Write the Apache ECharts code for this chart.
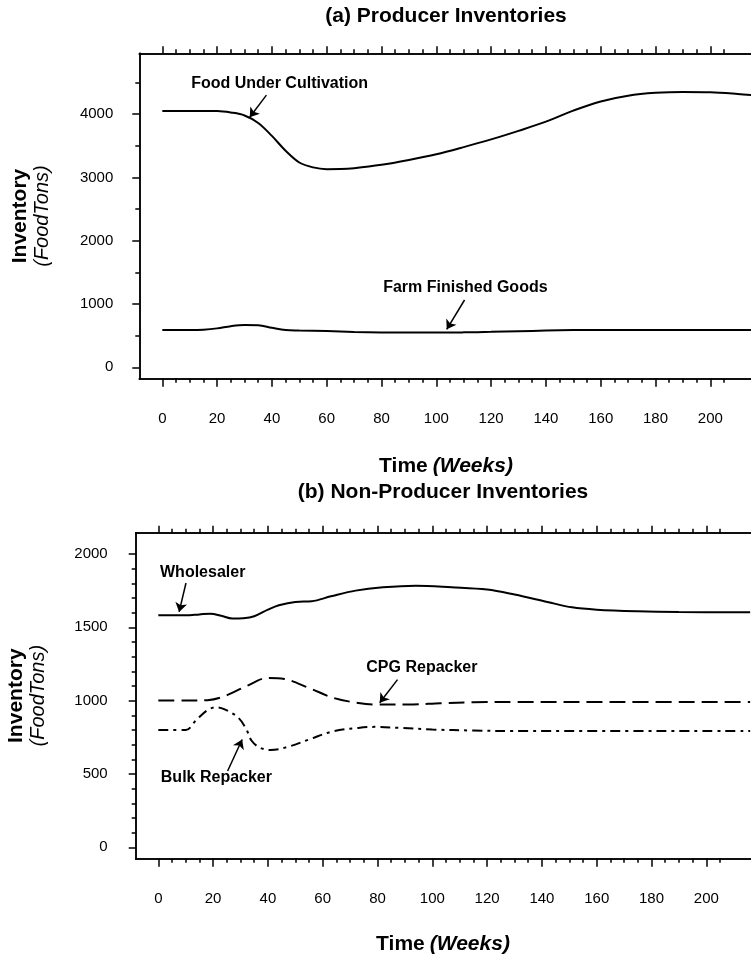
<!DOCTYPE html>
<html><head><meta charset="utf-8">
<script src="https://cdn.jsdelivr.net/npm/echarts@6/dist/echarts.min.js"></script>
<style>html,body{margin:0;padding:0;background:#fff;overflow:hidden}#c{width:751px;height:959px}</style>
</head><body><div id="c"></div>
<script>
// ---------- data ----------
const xMajorTicks = [0,20,40,60,80,100,120,140,160,180,200];
const xMinorTicks = [5,10,15,25,30,35,45,50,55,65,70,75,85,90,95,105,110,115,125,130,135,145,150,155,165,170,175,185,190,195,205];
const yTopMajor = [0,1000,2000,3000,4000];
const yTopMinor = [500,1500,2500,3500,4500];
const yBotMajor = [0,500,1000,1500,2000];
const yBotMinor = [100,200,300,400,600,700,800,900,1100,1200,1300,1400,1600,1700,1800,1900];

const fucWeeks  = [0,10,20,25,30,35,40,45,50,55,60,65,70,80,90,100,110,120,130,140,150,160,170,180,190,200,210,216];
const fucValues = [4050,4050,4048,4025,3978,3860,3655,3420,3235,3158,3130,3132,3145,3198,3275,3365,3478,3600,3735,3880,4055,4200,4290,4335,4350,4345,4318,4295];

const ffgWeeks  = [0,10,15,20,25,30,35,40,45,50,60,70,80,90,100,110,120,130,140,150,160,180,200,216];
const ffgValues = [590,590,595,615,650,668,665,625,590,582,572,558,550,548,548,552,560,570,580,588,590,590,590,590];

const wsWeeks  = [0,10,15,19,23,27,31,35,40,44,50,56,63,72,82,94,107,120,130,142,151,160,175,190,216];
const wsValues = [1582,1582,1588,1593,1578,1560,1562,1575,1620,1650,1673,1677,1711,1750,1773,1784,1773,1757,1723,1673,1636,1620,1609,1604,1602];

const cpgWeeks  = [0,10,18,24,32,40,46,55,64,73,80,91,103,115,130,160,216];
const cpgValues = [1000,1000,1003,1029,1097,1155,1148,1086,1018,984,973,973,982,989,991,991,990];

const bulkWeeks  = [0,10,14,18,21,24,29,32,34,37,41,47,55,64,73,79,88,100,115,130,216];
const bulkValues = [800,800,871,936,955,942,887,810,728,680,663,683,735,792,814,821,814,803,796,792,792];

// ---------- styling ----------
const FONT = '"Liberation Sans", Arial, sans-serif';
const BLACK = '#000';
const pairs = (xs, ys) => xs.map((x, i) => [x, ys[i]]);

function xAxes(g, min, max) {
  const base = {type:'value', gridIndex:g, min:min, max:max, splitLine:{show:false},
    axisLine:{show:true, onZero:false, lineStyle:{color:BLACK, width:1.5}}};
  const tk = (vals, len) => ({show:true, inside:false, customValues:vals, length:len, lineStyle:{color:BLACK, width:1.5}});
  return [
    Object.assign({}, base, {position:'bottom', axisTick:tk(xMajorTicks, 8),
      axisLabel:{show:true, customValues:xMajorTicks, margin:33, fontSize:15, color:BLACK, fontFamily:FONT}}),
    Object.assign({}, base, {position:'bottom', axisTick:tk(xMinorTicks, 4), axisLabel:{show:false}}),
    Object.assign({}, base, {position:'top', axisTick:tk(xMajorTicks, 7), axisLabel:{show:false}}),
    Object.assign({}, base, {position:'top', axisTick:tk(xMinorTicks, 4), axisLabel:{show:false}})
  ];
}
function yAxes(g, min, max, major, minor, margin) {
  const base = {type:'value', gridIndex:g, position:'left', min:min, max:max, splitLine:{show:false},
    axisLine:{show:true, onZero:false, lineStyle:{color:BLACK, width:1.5}}};
  const tk = (vals, len) => ({show:true, inside:false, customValues:vals, length:len, lineStyle:{color:BLACK, width:1.5}});
  return [
    Object.assign({}, base, {axisTick:tk(major, 7),
      axisLabel:{show:true, customValues:major, margin:margin, fontSize:15, color:BLACK, fontFamily:FONT, formatter:v => String(v)},
      name:'{a|Inventory}\n{b|(FoodTons)}', nameLocation:'middle', nameRotate:90, nameGap:86,
      nameTextStyle:{rich:{
        a:{fontFamily:FONT, fontWeight:'bold', fontSize:21, color:BLACK, lineHeight:22},
        b:{fontFamily:FONT, fontStyle:'italic', fontSize:20, color:BLACK, lineHeight:22}}}}),
    Object.assign({}, base, {axisTick:tk(minor, 4), axisLabel:{show:false}})
  ];
}
function annot(texts) {
  return {symbol:'circle', symbolSize:1, silent:true, itemStyle:{color:'rgba(0,0,0,0)'},
    label:{show:true, position:'inside', formatter:p => p.name, fontFamily:FONT, fontWeight:'bold', fontSize:16, color:BLACK},
    data:texts.map(t => ({name:t[0], coord:t[1]}))};
}
function arrows(list) {
  return {silent:true, symbol:['none','arrow'], symbolSize:9, label:{show:false},
    lineStyle:{color:BLACK, width:1.5, type:'solid'},
    data:list.map(a => [{coord:a[0]}, {coord:a[1]}])};
}
function line(name, xi, yi, data, type, mp, ml) {
  const s = {name:name, type:'line', xAxisIndex:xi, yAxisIndex:yi, data:data, showSymbol:false, symbol:'none',
    smooth:0.35, lineStyle:{color:BLACK, width:2, type:type}, itemStyle:{color:BLACK}};
  if (mp) s.markPoint = mp;
  if (ml) s.markLine = ml;
  return s;
}

const titleText = (txt, left, top) => ({text:txt, left:left, top:top, textAlign:'center', padding:0,
  textStyle:{fontFamily:FONT, fontWeight:'bold', fontSize:21, color:BLACK}});
const timeTitle = (left, top) => ({text:'{a|Time} {b|(Weeks)}', left:left, top:top, textAlign:'center', padding:0,
  textStyle:{rich:{a:{fontFamily:FONT, fontWeight:'bold', fontSize:21, color:BLACK},
                   b:{fontFamily:FONT, fontStyle:'italic', fontSize:21, color:BLACK}}}});

const topXMin = -8.4, botXMin = -8.25, xMax = 230;
const option = {
  animation:false,
  backgroundColor:'#fff',
  title:[
    titleText('(a) Producer Inventories', 446, 6),
    timeTitle(446, 456),
    titleText('(b) Non-Producer Inventories', 443, 482),
    timeTitle(443, 934)
  ],
  grid:[
    {left:139.3, top:53.3, width:(xMax - topXMin) * 2.74, height:325.4, containLabel:false, outerBoundsMode:'none'},
    {left:135.7, top:532.7, width:(xMax - botXMin) * 2.74, height:326, containLabel:false, outerBoundsMode:'none'}
  ],
  xAxis: xAxes(0, topXMin, xMax).concat(xAxes(1, botXMin, xMax)),
  yAxis: yAxes(0, -180, 4960, yTopMajor, yTopMinor, 26).concat(yAxes(1, -78, 2145, yBotMajor, yBotMinor, 28)),
  series:[
    line('Food Under Cultivation', 0, 0, pairs(fucWeeks, fucValues), 'solid',
      annot([['Food Under Cultivation', [42.8, 4484]]]),
      arrows([[[38, 4300], [31.9, 3950]]])),
    line('Farm Finished Goods', 0, 0, pairs(ffgWeeks, ffgValues), 'solid',
      annot([['Farm Finished Goods', [110.6, 1260]]]),
      arrows([[[110.3, 1063], [103.8, 600]]])),
    line('Wholesaler', 4, 2, pairs(wsWeeks, wsValues), 'solid',
      annot([['Wholesaler', [16.2, 1870]]]),
      arrows([[[10.1, 1802], [7.6, 1605]]])),
    line('CPG Repacker', 4, 2, pairs(cpgWeeks, cpgValues), [16, 7],
      annot([['CPG Repacker', [96.2, 1226]]]),
      arrows([[[87.3, 1143], [80.8, 985]]])),
    line('Bulk Repacker', 4, 2, pairs(bulkWeeks, bulkValues), [10, 5, 3, 5],
      annot([['Bulk Repacker', [21.2, 475]]]),
      arrows([[[25.3, 520], [30.6, 735]]]))
  ]
};
const chart = echarts.init(document.getElementById('c'), null, {renderer:'canvas'});
chart.setOption(option);
</script>
</body></html>
